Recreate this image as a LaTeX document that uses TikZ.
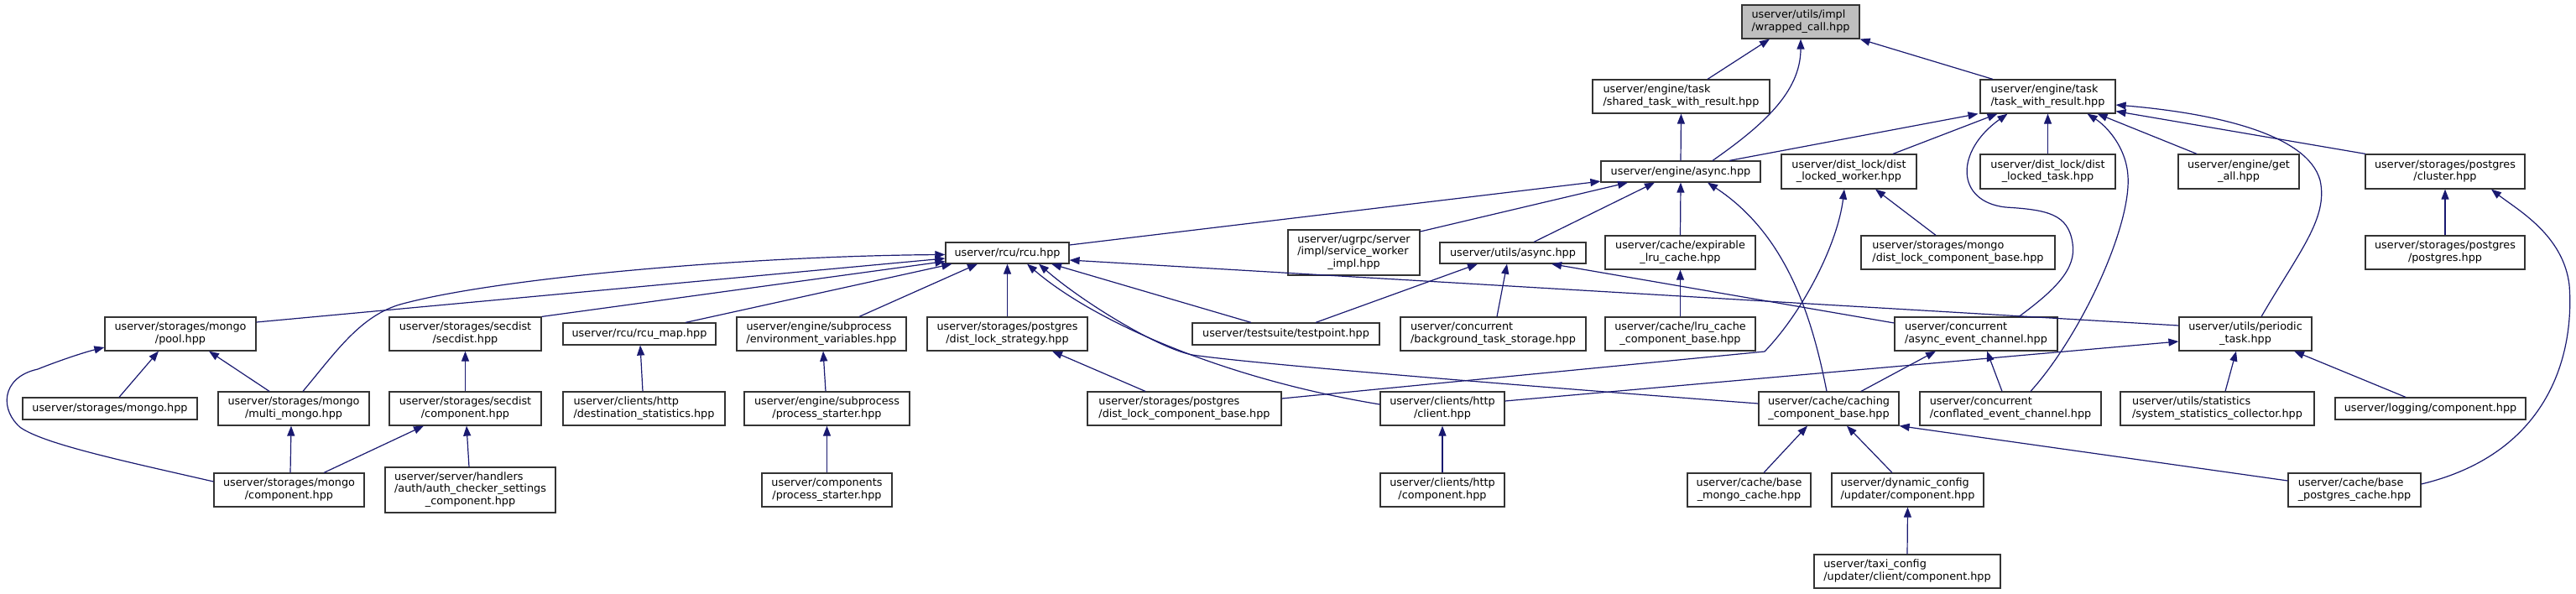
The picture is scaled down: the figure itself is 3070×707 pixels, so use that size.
\documentclass[tikz,border=0pt]{standalone}
\usepackage{fontspec}
\setmainfont{DejaVu Sans}
\usepackage{xcolor}
\usetikzlibrary{arrows.meta}

\definecolor{edgeblue}{HTML}{191970}
\definecolor{curgray}{HTML}{BFBFBF}

\newcommand{\twol}[2]{\begin{tabular}{@{}l@{}}#1\\\multicolumn{1}{@{}c@{}}{#2}\end{tabular}}
\newcommand{\threel}[3]{\begin{tabular}{@{}l@{}}#1\\#2\\\multicolumn{1}{@{}c@{}}{#3}\end{tabular}}

\begin{document}
\begin{tikzpicture}[x=1pt, y=-1pt,
  file/.style={draw=black!80, fill=white, line width=1.2pt, inner sep=0pt,
    font=\fontsize{12.8}{14.8}\selectfont},
  edge/.style={draw=edgeblue, line width=1.2pt, -{Triangle[length=12pt,width=9pt]}}]
\useasboundingbox (0,0) rectangle (3070,707);

% files
\node[file, fill=curgray, minimum width=140, minimum height=40] (wrapped) at (2146,26) {\twol{userver/utils/impl}{/wrapped\_call.hpp}};
\node[file, minimum width=211, minimum height=40] (shared) at (2003.5,115) {\twol{userver/engine/task}{/shared\_task\_with\_result.hpp}};
\node[file, minimum width=161, minimum height=40] (twr) at (2440.5,115) {\twol{userver/engine/task}{/task\_with\_result.hpp}};
\node[file, minimum width=190, minimum height=25] (async) at (2003,204.5) {userver/engine/async.hpp};
\node[file, minimum width=161, minimum height=41] (dlworker) at (2203.5,204.5) {\twol{userver/dist\_lock/dist}{\_locked\_worker.hpp}};
\node[file, minimum width=161, minimum height=41] (dltask) at (2440.5,204.5) {\twol{userver/dist\_lock/dist}{\_locked\_task.hpp}};
\node[file, minimum width=144, minimum height=41] (getall) at (2668,204.5) {\twol{userver/engine/get}{\_all.hpp}};
\node[file, minimum width=190, minimum height=41] (cluster) at (2914,204.5) {\twol{userver/storages/postgres}{/cluster.hpp}};
\node[file, minimum width=147, minimum height=25] (rcu) at (1200.5,301.5) {userver/rcu/rcu.hpp};
\node[file, minimum width=157, minimum height=54] (ugrpc) at (1613.5,301) {\threel{userver/ugrpc/server}{/impl/service\_worker}{\_impl.hpp}};
\node[file, minimum width=174, minimum height=25] (uasync) at (1803,301.5) {userver/utils/async.hpp};
\node[file, minimum width=179, minimum height=40] (explru) at (2002.5,301) {\twol{userver/cache/expirable}{\_lru\_cache.hpp}};
\node[file, minimum width=231, minimum height=40] (mdlcb) at (2333.5,301) {\twol{userver/storages/mongo}{/dist\_lock\_component\_base.hpp}};
\node[file, minimum width=190, minimum height=40] (postgres) at (2914,301) {\twol{userver/storages/postgres}{/postgres.hpp}};
\node[file, minimum width=180, minimum height=40] (pool) at (215,398) {\twol{userver/storages/mongo}{/pool.hpp}};
\node[file, minimum width=181, minimum height=40] (secdist) at (554.5,398) {\twol{userver/storages/secdist}{/secdist.hpp}};
\node[file, minimum width=182, minimum height=26] (rcumap) at (762,398) {userver/rcu/rcu\_map.hpp};
\node[file, minimum width=202, minimum height=40] (envvars) at (979,398) {\twol{userver/engine/subprocess}{/environment\_variables.hpp}};
\node[file, minimum width=191, minimum height=40] (dlstrat) at (1200.5,398) {\twol{userver/storages/postgres}{/dist\_lock\_strategy.hpp}};
\node[file, minimum width=223, minimum height=26] (testpoint) at (1532.5,398) {userver/testsuite/testpoint.hpp};
\node[file, minimum width=221, minimum height=40] (bgtask) at (1779.5,398) {\twol{userver/concurrent}{/background\_task\_storage.hpp}};
\node[file, minimum width=179, minimum height=40] (lrucb) at (2002.5,398) {\twol{userver/cache/lru\_cache}{\_component\_base.hpp}};
\node[file, minimum width=194, minimum height=40] (aec) at (2355,398) {\twol{userver/concurrent}{/async\_event\_channel.hpp}};
\node[file, minimum width=158, minimum height=40] (periodic) at (2676,398) {\twol{userver/utils/periodic}{\_task.hpp}};
\node[file, minimum width=208, minimum height=26] (mongohpp) at (131,487) {userver/storages/mongo.hpp};
\node[file, minimum width=180, minimum height=40] (multimongo) at (350,487) {\twol{userver/storages/mongo}{/multi\_mongo.hpp}};
\node[file, minimum width=181, minimum height=40] (secdistcomp) at (554.5,487) {\twol{userver/storages/secdist}{/component.hpp}};
\node[file, minimum width=193, minimum height=40] (deststat) at (767.5,487) {\twol{userver/clients/http}{/destination\_statistics.hpp}};
\node[file, minimum width=197, minimum height=40] (procstart) at (985.5,487) {\twol{userver/engine/subprocess}{/process\_starter.hpp}};
\node[file, minimum width=231, minimum height=40] (pdlcb) at (1411.5,487) {\twol{userver/storages/postgres}{/dist\_lock\_component\_base.hpp}};
\node[file, minimum width=148, minimum height=40] (client) at (1719,487) {\twol{userver/clients/http}{/client.hpp}};
\node[file, minimum width=167, minimum height=40] (caching) at (2179.5,487) {\twol{userver/cache/caching}{\_component\_base.hpp}};
\node[file, minimum width=216, minimum height=40] (cec) at (2396,487) {\twol{userver/concurrent}{/conflated\_event\_channel.hpp}};
\node[file, minimum width=231, minimum height=40] (sysstat) at (2642.5,487) {\twol{userver/utils/statistics}{/system\_statistics\_collector.hpp}};
\node[file, minimum width=227, minimum height=26] (logcomp) at (2896.5,487) {userver/logging/component.hpp};
\node[file, minimum width=179, minimum height=40] (mongocomp) at (344.5,584) {\twol{userver/storages/mongo}{/component.hpp}};
\node[file, minimum width=203, minimum height=54] (authcomp) at (560.5,584) {\threel{userver/server/handlers}{/auth/auth\_checker\_settings}{\_component.hpp}};
\node[file, minimum width=155, minimum height=40] (compproc) at (985.5,584) {\twol{userver/components}{/process\_starter.hpp}};
\node[file, minimum width=148, minimum height=40] (httpcomp) at (1719,584) {\twol{userver/clients/http}{/component.hpp}};
\node[file, minimum width=147, minimum height=40] (basemongo) at (2084.5,584) {\twol{userver/cache/base}{\_mongo\_cache.hpp}};
\node[file, minimum width=181, minimum height=40] (dyncfg) at (2273.5,584) {\twol{userver/dynamic\_config}{/updater/component.hpp}};
\node[file, minimum width=158, minimum height=40] (basepg) at (2806,584) {\twol{userver/cache/base}{\_postgres\_cache.hpp}};
\node[file, minimum width=222, minimum height=40] (taxicfg) at (2273,681) {\twol{userver/taxi\_config}{/updater/client/component.hpp}};

% includes, arrow at the included file
\draw[edge] ([xshift=31.5]shared.north) -- ([xshift=-37]wrapped.south);
\draw[edge] ([xshift=38]async.north) .. controls (2100,150) and (2146,110) .. (wrapped.south);
\draw[edge] ([xshift=-65.5]twr.north) -- (wrapped.south east);
\draw[edge] (async.north) -- (shared.south);
\draw[edge] ([xshift=58]async.north) -- ([xshift=-83]twr.south);
\draw[edge] ([xshift=52.5]dlworker.north) -- ([xshift=-60]twr.south);
\draw[edge] ([xshift=51]aec.north) .. controls (2450,345) and (2475,320) .. (2470,290)
  .. controls (2465,255) and (2440,250) .. (2390,247)
  .. controls (2330,240) and (2330,180) .. ([xshift=-48]twr.south);
\draw[edge] (dltask.north) -- (twr.south);
\draw[edge] ([xshift=24]cec.north) .. controls (2480,400) and (2540,270) .. (2536,210)
  .. controls (2534,175) and (2510,150) .. ([xshift=47]twr.south);
\draw[edge] ([xshift=-50]getall.north) -- ([xshift=59]twr.south);
\draw[edge] ([xshift=-95]cluster.north) -- ([yshift=3]twr.south east);
\draw[edge] ([xshift=19]periodic.north) .. controls (2740,300) and (2775,260) .. (2765,215)
  .. controls (2750,160) and (2640,135) .. ([yshift=-10]twr.east);
\draw[edge] ([xshift=-26.5]mdlcb.north) -- ([xshift=31.5]dlworker.south);
\draw[edge] ([yshift=12]pdlcb.east) -- (2103,419) .. controls (2150,370) and (2190,290) .. ([xshift=-5.5]dlworker.south);
\draw[edge] (postgres.north) -- (cluster.south);
\draw[edge] ([yshift=7]basepg.east) .. controls (3040,540) and (3068,420) .. (3062,340)
  .. controls (3055,280) and (3000,250) .. ([xshift=55]cluster.south);
\draw[edge] ([yshift=9.5]rcu.east) -- ([yshift=1.5]async.south west);
\draw[edge] ([yshift=25]ugrpc.east) -- ([xshift=-63]async.south);
\draw[edge] ([xshift=25]uasync.north) -- ([xshift=-31]async.south);
\draw[edge] (explru.north) -- (async.south);
\draw[edge] ([xshift=-2.5]caching.north) .. controls (2160,380) and (2130,280) .. ([xshift=32]async.south);
\draw[edge] ([xshift=11]multimongo.north) .. controls (400,420) and (430,375) .. (480,362)
  .. controls (600,330) and (900,305) .. ([yshift=-2]rcu.west);
\draw[edge] ([yshift=14]pool.east) -- ([yshift=-6.5]rcu.west);
\draw[edge] (secdist.north east) -- ([yshift=-10]rcu.west);
\draw[edge] ([xshift=55]rcumap.north) -- ([xshift=8]rcu.south west);
\draw[edge] ([xshift=45]envvars.north) -- ([xshift=-35.5]rcu.south);
\draw[edge] (dlstrat.north) -- (rcu.south);
\draw[edge] ([yshift=5]client.west) .. controls (1450,450) and (1300,380) .. ([xshift=23.5]rcu.south);
\draw[edge] ([yshift=6]caching.west) .. controls (1750,455) and (1480,432) .. (1421,423)
  .. controls (1380,415) and (1290,360) .. ([xshift=37.5]rcu.south);
\draw[edge] ([xshift=-41.5]testpoint.north) -- ([xshift=52.5]rcu.south);
\draw[edge] ([yshift=10]periodic.west) -- ([yshift=-8.5]rcu.east);
\draw[edge] ([xshift=35.5]testpoint.north) -- ([xshift=-42]uasync.south);
\draw[edge] ([xshift=4.5]bgtask.north) -- ([xshift=-7]uasync.south);
\draw[edge] ([yshift=13]aec.west) -- ([xshift=46]uasync.south);
\draw[edge] (lrucb.north) -- (explru.south);
\draw[edge] ([xshift=38.5]caching.north) -- ([xshift=-48]aec.south);
\draw[edge] ([xshift=-10]cec.north) -- ([xshift=13]aec.south);
\draw[edge] ([yshift=9]client.east) -- ([yshift=-9]periodic.west);
\draw[edge] ([xshift=9.5]sysstat.north) -- ([xshift=-11]periodic.south);
\draw[edge] ([xshift=-29.5]logcomp.north) -- ([xshift=58]periodic.south);
\draw[edge] ([xshift=17.5]basemongo.north) -- ([xshift=-25.5]caching.south);
\draw[edge] ([xshift=-18.5]dyncfg.north) -- ([xshift=21.5]caching.south);
\draw[edge] ([yshift=11]basepg.west) -- (caching.south east);
\draw[edge] (taxicfg.north) -- (dyncfg.south);
\draw[edge] (httpcomp.north) -- (client.south);
\draw[edge] ([xshift=-46.5]pdlcb.north) -- ([xshift=53.5]dlstrat.south);
\draw[edge] ([xshift=11]mongohpp.north) -- ([xshift=-26]pool.south);
\draw[edge] ([xshift=-29]multimongo.north) -- ([xshift=34]pool.south);
\draw[edge] ([yshift=10]mongocomp.west) .. controls (150,550) and (55,530) .. (25,510)
  .. controls (0,490) and (0,450) .. (45,440)
  .. controls (70,430) and (100,420) .. ([yshift=-16]pool.west);
\draw[edge] ([xshift=1.5]mongocomp.north) -- ([xshift=-3]multimongo.south);
\draw[edge] ([xshift=41.5]mongocomp.north) -- ([xshift=-49.5]secdistcomp.south);
\draw[edge] (secdistcomp.north) -- (secdist.south);
\draw[edge] ([xshift=-1.5]authcomp.north) -- ([xshift=1.5]secdistcomp.south);
\draw[edge] ([xshift=-1.5]deststat.north) -- ([xshift=1]rcumap.south);
\draw[edge] ([xshift=-1.5]procstart.north) -- ([xshift=2]envvars.south);
\draw[edge] (compproc.north) -- (procstart.south);
\end{tikzpicture}
\end{document}
